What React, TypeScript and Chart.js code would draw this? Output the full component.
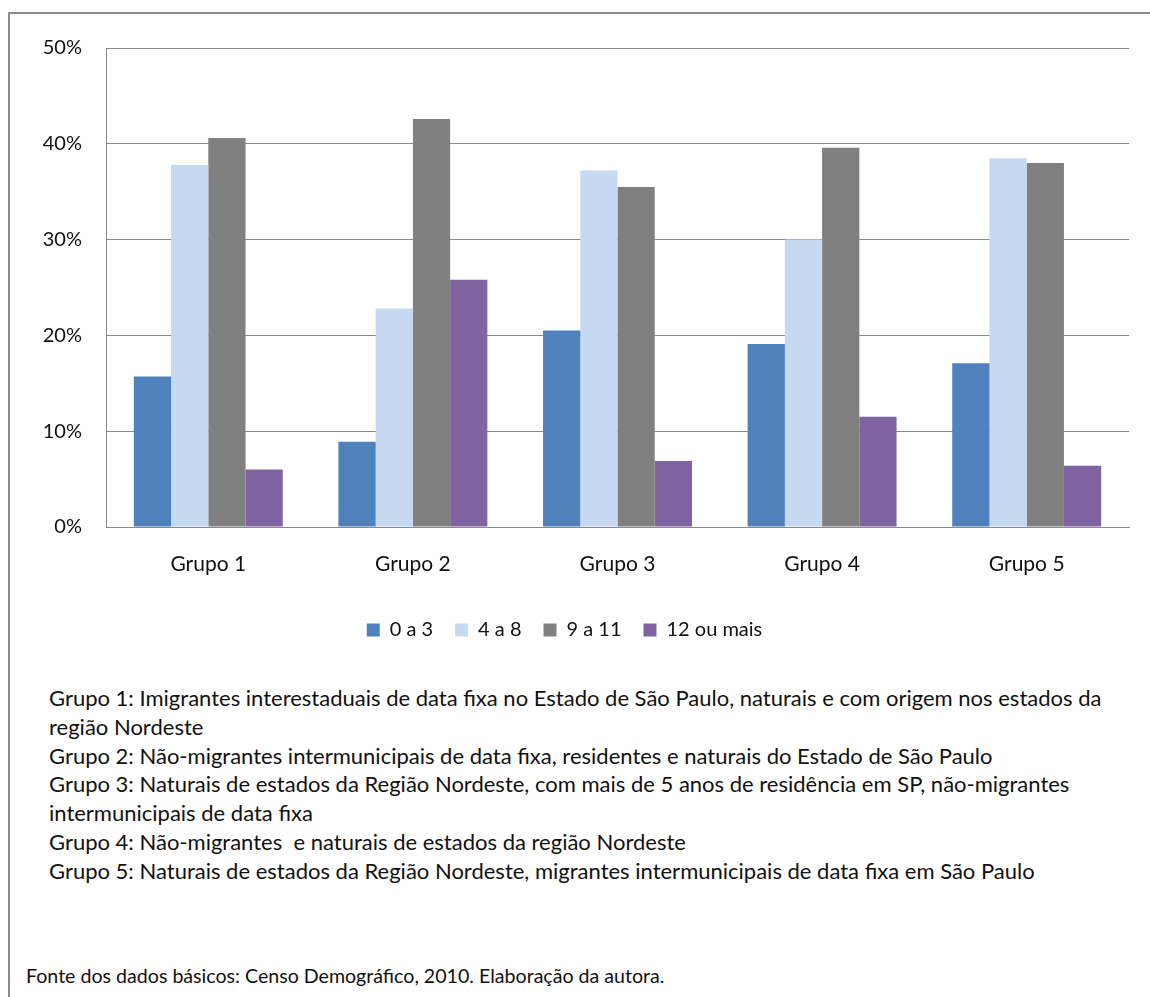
import { useEffect, useRef } from "react";
import { Chart, registerables } from "chart.js";

Chart.register(...registerables);

// Categories and series (percent of each group by years of schooling)
const groups = ["Grupo 1", "Grupo 2", "Grupo 3", "Grupo 4", "Grupo 5"];
const seriesNames = ["0 a 3", "4 a 8", "9 a 11", "12 ou mais"];
const anos0a3 = [15.7, 8.9, 20.5, 19.1, 17.1];
const anos4a8 = [37.8, 22.8, 37.2, 30.0, 38.5];
const anos9a11 = [40.6, 42.6, 35.5, 39.6, 38.0];
const anos12ouMais = [6.0, 25.8, 6.9, 11.5, 6.4];
const seriesColors = ["#4F81BD", "#C6D9F1", "#808080", "#8064A2"];
const yMax = 50;
const yStep = 10;

const notes = [
  "Grupo 1: Imigrantes interestaduais de data fixa no Estado de São Paulo, naturais e com origem nos estados da",
  "região Nordeste",
  "Grupo 2: Não-migrantes intermunicipais de data fixa, residentes e naturais do Estado de São Paulo",
  "Grupo 3: Naturais de estados da Região Nordeste, com mais de 5 anos de residência em SP, não-migrantes",
  "intermunicipais de data fixa",
  "Grupo 4: Não-migrantes  e naturais de estados da região Nordeste",
  "Grupo 5: Naturais de estados da Região Nordeste, migrantes intermunicipais de data fixa em São Paulo",
];
const source = "Fonte dos dados básicos: Censo Demográfico, 2010. Elaboração da autora.";

const FONT = "Lato, 'Open Sans', sans-serif";
const GRID = "#8a8a8a";

export default function App() {
  const canvasRef = useRef<HTMLCanvasElement | null>(null);

  useEffect(() => {
    const canvas = canvasRef.current;
    if (!canvas) return;
    const values = [anos0a3, anos4a8, anos9a11, anos12ouMais];
    const chart = new Chart(canvas, {
      type: "bar",
      data: {
        labels: groups,
        datasets: seriesNames.map((name, i) => ({
          label: name,
          data: values[i],
          backgroundColor: seriesColors[i],
          borderWidth: 0,
          categoryPercentage: 0.728,
          barPercentage: 1,
        })),
      },
      options: {
        animation: false,
        responsive: false,
        maintainAspectRatio: false,
        layout: { padding: { left: 0, right: 21, top: 48, bottom: 0 } },
        scales: {
          x: {
            grid: { display: false, drawTicks: false },
            border: { color: GRID, width: 1 },
            ticks: { padding: 25, color: "#111", font: { family: FONT, size: 21 } },
            afterFit: (scale: any) => {
              scale.height = 71;
            },
          },
          y: {
            min: 0,
            max: yMax,
            grid: { color: GRID, lineWidth: 1, drawTicks: false },
            border: { color: GRID, width: 1 },
            ticks: {
              stepSize: yStep,
              padding: 24,
              color: "#111",
              font: { family: FONT, size: 20 },
              callback: (v: any) => `${v}%`,
            },
            afterFit: (scale: any) => {
              scale.width = 106;
            },
          },
        },
        plugins: {
          legend: {
            position: "bottom",
            labels: {
              boxWidth: 13,
              boxHeight: 13,
              padding: 22,
              color: "#111",
              font: { family: FONT, size: 20 },
            },
          },
          tooltip: { enabled: false },
        },
      },
    });
    return () => chart.destroy();
  }, []);

  return (
    <div
      style={{
        position: "absolute",
        left: 0,
        top: 0,
        width: 1150,
        height: 997,
        overflow: "hidden",
        background: "#fff",
        fontFamily: FONT,
        color: "#111",
      }}
    >
      <div
        style={{
          position: "absolute",
          left: 8,
          top: 12,
          width: 1200,
          height: 1100,
          border: "2px solid #8c8c8c",
          boxSizing: "border-box",
        }}
      />
      <canvas
        ref={canvasRef}
        width={1150}
        height={650}
        style={{ position: "absolute", left: 0, top: 0, width: 1150, height: 650 }}
      />
      <div
        style={{
          position: "absolute",
          left: 49,
          top: 684,
          fontSize: 22,
          lineHeight: "28.8px",
          whiteSpace: "pre",
        }}
      >
        {notes.map((line, i) => (
          <div key={i}>{line}</div>
        ))}
      </div>
      <div
        style={{
          position: "absolute",
          left: 26,
          top: 961,
          fontSize: 20,
          lineHeight: "28px",
          whiteSpace: "pre",
          transformOrigin: "0 50%",
          transform: "scaleX(0.98)",
        }}
      >
        {source}
      </div>
    </div>
  );
}
